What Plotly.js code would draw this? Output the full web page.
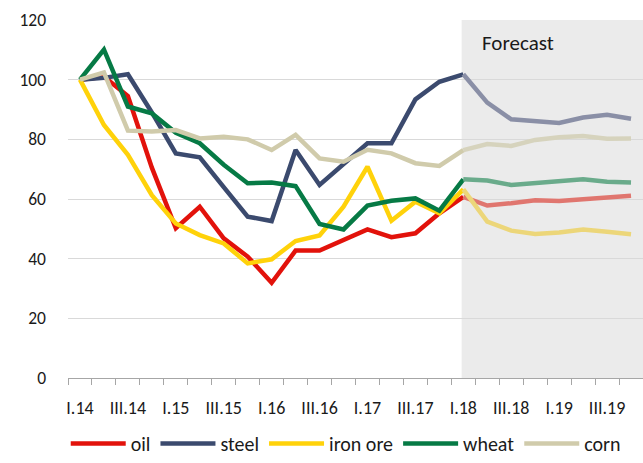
<!DOCTYPE html>
<html>
<head>
<meta charset="utf-8">
<script src="https://cdn.plot.ly/plotly-3.0.1.min.js"></script>
<style>html,body{margin:0;padding:0;background:#fff;}#chart{width:643px;height:463px;}</style>
</head>
<body>
<div id="chart"></div>
<script>
const quarters = ["I.14","II.14","III.14","IV.14","I.15","II.15","III.15","IV.15",
  "I.16","II.16","III.16","IV.16","I.17","II.17","III.17","IV.17",
  "I.18","II.18","III.18","IV.18","I.19","II.19","III.19","IV.19"];
const forecastFrom = "I.18";

const oil     = [100, 101, 94.5, 70.5, 50.2, 57.4, 46.8, 40.7, 31.9, 42.7, 42.7, 46.3, 49.8, 47.2, 48.5, 55.2, 60.7, 57.8, 58.6, 59.6, 59.3, 59.9, 60.6, 61.1];
const steel   = [100, 100.6, 101.8, 89, 75.3, 74, 64, 54.1, 52.6, 76.4, 64.7, 71.7, 78.7, 78.7, 93.4, 99.3, 101.8, 92.3, 86.7, 86.2, 85.5, 87.3, 88.2, 86.9];
const ironOre = [100, 84.8, 74.8, 61.3, 51.8, 47.9, 45.1, 38.4, 39.8, 45.9, 47.8, 57.4, 70.8, 52.7, 59.1, 55.2, 63.2, 52.4, 49.4, 48.3, 48.8, 49.8, 49.0, 48.2];
const wheat   = [100, 110.1, 91, 88.7, 82.2, 78.7, 71.5, 65.3, 65.5, 64.3, 51.6, 49.8, 57.8, 59.4, 60.2, 56.1, 66.6, 66.2, 64.7, 65.3, 65.8, 66.6, 65.8, 65.5];
const corn    = [100, 102.4, 82.9, 82.6, 83.1, 80.3, 80.9, 80, 76.4, 81.5, 73.6, 72.5, 76.5, 75.3, 72, 71.1, 76.4, 78.4, 77.8, 79.8, 80.7, 81.1, 80.2, 80.3];

const seriesNames = ["oil", "steel", "iron ore", "wheat", "corn"];
const seriesData = [oil, steel, ironOre, wheat, corn];
const colors      = ["#e2120b", "#3b4a6e", "#ffd20a", "#067a45", "#d0cbab"];
const lightColors = ["#e0766f", "#8a8fa6", "#ecd679", "#6aab8b", "#d6d3bd"];

const xIdx = quarters.map((q, i) => i);
const fi = quarters.indexOf(forecastFrom);
const FONT = "Carlito, Lato, 'Open Sans', sans-serif";

const traces = [];
seriesData.forEach((vals, k) => {
  traces.push({
    type: "scatter", mode: "lines", name: seriesNames[k],
    x: xIdx.slice(0, fi + 1), y: vals.slice(0, fi + 1),
    line: {color: colors[k], width: 4.5},
    legendgroup: seriesNames[k], hoverinfo: "skip"
  });
});
seriesData.forEach((vals, k) => {
  traces.push({
    type: "scatter", mode: "lines", name: seriesNames[k] + " forecast",
    x: xIdx.slice(fi), y: vals.slice(fi),
    line: {color: lightColors[k], width: 4.5},
    legendgroup: seriesNames[k], showlegend: false, hoverinfo: "skip"
  });
});

const tickIdx = xIdx.filter(i => i % 2 === 0);
const boundaries = quarters.map((q, i) => i - 0.5).concat([quarters.length - 0.5]);

const layout = {
  width: 643, height: 463,
  margin: {l: 68, r: 0, t: 20, b: 85, autoexpand: false},
  paper_bgcolor: "#ffffff", plot_bgcolor: "#ffffff",
  font: {family: FONT, size: 17, color: "#1a1a1a"},
  showlegend: true,
  xaxis: {
    range: [-0.5, quarters.length - 0.5],
    tickmode: "array", tickvals: tickIdx, ticktext: tickIdx.map(i => quarters[i]),
    ticks: "", ticklabelstandoff: 13,
    showgrid: false, zeroline: false,
    showline: true, linecolor: "#a6a6a6", linewidth: 1,
    minor: {tickmode: "array", tickvals: boundaries, ticks: "outside", ticklen: 6, tickcolor: "#a6a6a6", tickwidth: 1, showgrid: false},
    tickfont: {family: FONT, size: 18, color: "#1a1a1a"}
  },
  yaxis: {
    range: [0, 120], tickmode: "linear", tick0: 0, dtick: 20,
    showgrid: true, gridcolor: "#d9d9d9", gridwidth: 1,
    zeroline: false, showline: false, ticks: "",
    ticklabelstandoff: 21,
    tickfont: {family: FONT, size: 17.5, color: "#1a1a1a"}
  },
  shapes: [{
    type: "rect", layer: "below", xref: "x", yref: "paper",
    x0: fi - 0.07, x1: quarters.length + 1, y0: 0, y1: 1,
    fillcolor: "#ebebeb", line: {width: 0}
  }],
  annotations: [{
    text: "Forecast", xref: "paper", yref: "paper",
    x: 0.716, y: 0.935, xanchor: "left", yanchor: "middle",
    showarrow: false, font: {family: FONT, size: 21, color: "#1a1a1a"}
  }],
  legend: {
    orientation: "h", xref: "paper", yref: "container",
    x: 0.483, xanchor: "center", y: 0, yanchor: "bottom",
    font: {family: FONT, size: 20, color: "#1a1a1a"},
    itemwidth: 55, tracegroupgap: 0, bgcolor: "rgba(0,0,0,0)"
  }
};

Plotly.newPlot("chart", traces, layout, {staticPlot: true, displayModeBar: false});
</script>
</body>
</html>
